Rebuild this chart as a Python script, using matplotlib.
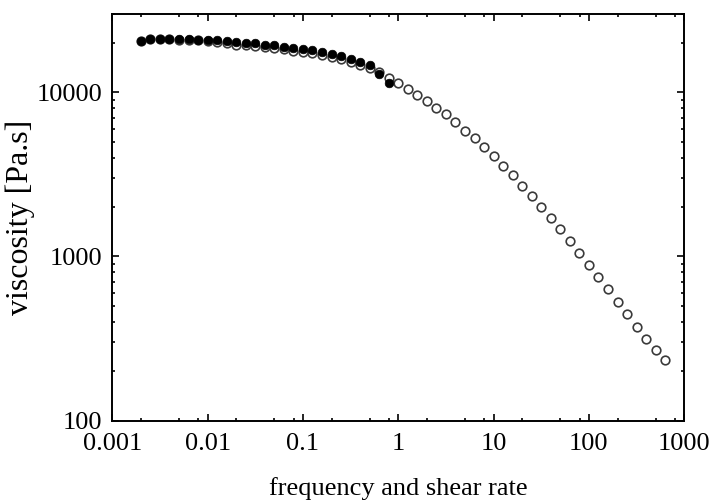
import numpy as np
import matplotlib
matplotlib.use("Agg")
import matplotlib.pyplot as plt
from matplotlib.ticker import LogLocator, NullFormatter

plt.rcParams["font.family"] = ["Liberation Serif", "DejaVu Serif"]

# frequency sweep (filled) and shear-rate sweep (open), 10 points per decade
freq = 10 ** np.arange(-2.7, -0.05, 0.1)
eta_osc = [20500, 21000, 21000, 21000, 21000, 21000, 20900, 20850, 20700, 20500,
           20300, 20100, 19850, 19550, 19300, 19000, 18650, 18300, 18000, 17500,
           17000, 16550, 15950, 15300, 14650, 13000, 11350]

rate = 10 ** np.arange(-2.7, 2.85, 0.1)
eta_shear = [20500, 21000, 21000, 21000, 20950, 20900, 20750, 20600, 20250, 19850,
             19550, 19350, 19100, 18800, 18550, 18250, 17900, 17600, 17300, 16850,
             16350, 15900, 15300, 14700, 14050, 13300, 12270, 11340, 10520, 9670,
             8855, 8064, 7353, 6600, 5821, 5256, 4655, 4076, 3579, 3125,
             2699, 2340, 2012, 1718, 1465, 1245, 1054, 890, 749, 630,
             529, 444, 373, 316, 269, 233]

fig = plt.figure(figsize=(7.15, 5.0), dpi=100)
ax = fig.add_axes([0.157, 0.159, 0.800, 0.813])

ax.plot(rate, eta_shear, "o", ls="none", ms=6.2, mfc="white", mec="#3a3a3a", mew=1.2)
ax.plot(freq, eta_osc, "o", ls="none", ms=6.2, mfc="black", mec="black", mew=0.5)

ax.set_xscale("log")
ax.set_yscale("log")
ax.set_xlim(0.001, 1000)
ax.set_ylim(100, 30000)

ax.set_xticks([0.001, 0.01, 0.1, 1, 10, 100, 1000])
ax.set_xticklabels(["0.001", "0.01", "0.1", "1", "10", "100", "1000"])
ax.xaxis.set_minor_locator(LogLocator(base=10, subs=(2, 5, 8)))
ax.set_yticks([100, 1000, 10000])
ax.set_yticklabels(["100", "1000", "10000"])
ax.yaxis.set_minor_locator(LogLocator(base=10, subs=np.arange(2, 10)))
ax.xaxis.set_minor_formatter(NullFormatter())
ax.yaxis.set_minor_formatter(NullFormatter())

ax.tick_params(which="both", direction="in", top=True, right=True, labelsize=19)
ax.tick_params(which="major", length=5, width=1.2)
ax.tick_params(which="minor", length=2.5, width=1.2)
ax.tick_params(axis="x", which="major", pad=9)
ax.tick_params(axis="y", which="major", pad=7)
for s in ax.spines.values():
    s.set_linewidth(1.4)

ax.set_xlabel("frequency and shear rate", fontsize=19, labelpad=16)
ax.set_ylabel("viscosity [Pa.s]", fontsize=23, labelpad=1)

fig.savefig("out.png", dpi=100)
